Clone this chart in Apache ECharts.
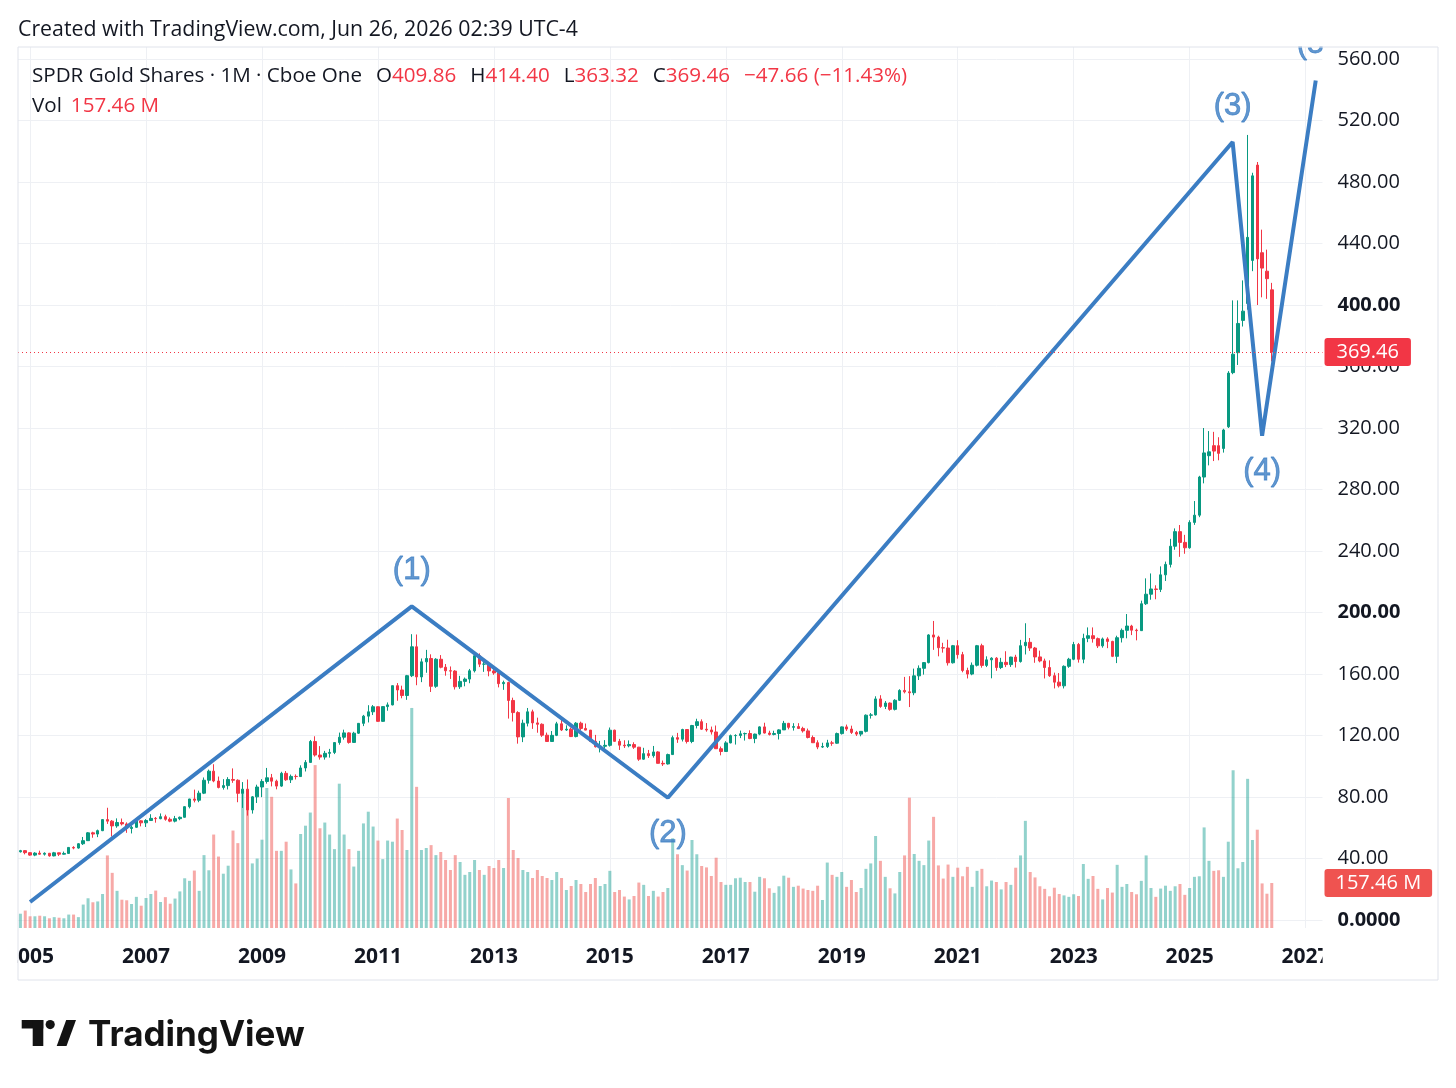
<!DOCTYPE html>
<html>
<head>
<meta charset="utf-8">
<title>SPDR Gold Shares · 1M</title>
<script src="https://cdn.jsdelivr.net/npm/echarts@6.0.0/dist/echarts.min.js"></script>
<style>
  html, body { margin: 0; padding: 0; background: #fff; }
  #chart { width: 1456px; height: 1088px; }
</style>
</head>
<body>
<div id="chart"></div>
<script>
// monthly bars from Nov 2004 to Jun 2026
var startYear = 2004, startMonth = 11;
var emptyMonths = 10; // free space right of the last bar

var open = [
  44.38, 45.12,
  43.80, 42.20, 43.50, 42.80, 43.40, 41.70, 43.70, 42.80, 43.30, 47.20, 46.80, 49.60,
  51.60, 56.70, 55.90, 58.10, 65.30, 64.30, 61.20, 63.40, 62.50, 59.50, 60.30, 64.50,
  63.20, 64.70, 66.10, 65.90, 67.20, 65.50, 64.30, 65.90, 66.80, 73.70, 78.70, 77.90,
  82.50, 90.90, 96.80, 90.40, 86.20, 87.40, 91.40, 90.90, 82.40, 85.10, 71.60, 80.10,
  86.50, 90.10, 92.50, 90.30, 87.10, 95.40, 91.20, 93.40, 93.30, 98.90, 102.50, 116.10,
  107.30, 105.96, 108.40, 109.00, 115.40, 118.90, 121.70, 115.50, 121.50, 127.90, 132.60, 135.40,
  138.70, 129.20, 138.80, 139.90, 152.40, 149.60, 146.00, 158.90, 177.70, 158.10, 167.90, 170.10,
  152.00, 169.60, 164.40, 162.10, 161.90, 151.70, 155.20, 156.70, 162.10, 171.90, 166.40, 166.40,
  162.00, 160.70, 153.70, 154.50, 142.80, 134.90, 119.10, 128.00, 135.40, 128.20, 127.30, 120.20,
  116.10, 120.10, 127.60, 123.60, 124.10, 119.30, 128.00, 124.60, 123.50, 116.20, 112.70, 113.00,
  113.60, 123.45, 116.20, 113.70, 113.30, 114.10, 112.40, 104.60, 108.20, 106.90, 109.30, 101.90,
  101.50, 107.60, 118.60, 117.60, 123.90, 116.10, 126.50, 128.98, 124.10, 123.60, 122.30, 111.40,
  109.60, 115.20, 119.90, 120.00, 121.10, 121.30, 118.00, 120.90, 125.60, 121.60, 120.70, 121.30,
  123.65, 127.90, 125.30, 125.80, 124.60, 123.00, 118.70, 115.30, 112.50, 112.80, 115.20, 115.00,
  121.25, 125.60, 124.20, 122.00, 120.90, 122.70, 133.20, 133.40, 143.80, 138.90, 141.10, 137.00,
  142.90, 149.30, 148.40, 147.80, 158.80, 163.70, 167.40, 185.40, 184.00, 177.10, 176.90, 167.30,
  178.40, 172.60, 162.30, 159.96, 165.70, 178.40, 165.60, 169.20, 170.30, 164.20, 167.60, 166.10,
  171.00, 168.10, 178.40, 180.60, 176.90, 171.10, 168.50, 164.20, 158.90, 154.70, 152.30, 165.00,
  169.60, 179.20, 169.60, 183.20, 184.90, 183.00, 178.30, 182.80, 181.20, 171.50, 183.60, 188.40,
  191.20, 188.50, 188.20, 205.70, 211.90, 215.30, 215.00, 224.50, 231.30, 243.10, 252.60, 245.60,
  242.10, 258.60, 263.30, 288.10, 302.00, 308.50, 308.50, 306.70, 320.80, 356.00, 369.00, 390.00,
  401.00, 429.00, 491.00, 434.00, 422.00, 409.86
];
var high = [
  45.60, 45.50,
  44.00, 44.10, 45.10, 44.00, 43.60, 44.30, 43.80, 44.50, 47.30, 48.00, 50.00, 54.00,
  57.20, 57.40, 58.80, 65.60, 73.00, 65.00, 66.10, 66.00, 63.50, 61.50, 65.00, 64.90,
  65.60, 68.80, 67.00, 69.30, 68.50, 66.70, 67.70, 67.30, 74.00, 78.80, 84.80, 84.10,
  92.70, 97.80, 101.30, 93.30, 91.60, 92.90, 98.60, 91.50, 89.70, 91.40, 80.60, 88.00,
  91.60, 98.90, 95.00, 91.30, 96.40, 96.90, 94.60, 94.70, 100.60, 104.00, 117.10, 119.50,
  113.10, 110.00, 111.30, 115.50, 121.90, 123.80, 122.10, 122.40, 128.10, 133.40, 139.70, 139.80,
  138.90, 138.90, 141.50, 152.50, 154.10, 152.40, 159.40, 185.90, 185.70, 170.10, 175.70, 172.80,
  170.30, 172.30, 166.50, 164.90, 162.50, 158.80, 157.70, 163.30, 173.00, 173.40, 169.60, 167.50,
  163.90, 162.90, 155.70, 155.00, 144.60, 135.80, 130.30, 137.90, 136.80, 131.60, 127.90, 121.90,
  122.90, 128.90, 132.10, 126.60, 125.20, 128.70, 129.00, 127.80, 123.60, 120.40, 116.50, 117.00,
  125.20, 123.80, 117.80, 116.90, 116.80, 115.60, 112.60, 112.00, 110.60, 113.20, 109.80, 103.70,
  108.20, 119.90, 121.70, 124.40, 124.20, 126.90, 130.90, 130.50, 128.10, 125.80, 126.50, 112.80,
  116.30, 120.60, 120.80, 123.20, 121.90, 123.40, 121.20, 126.00, 128.30, 123.10, 123.10, 124.10,
  129.50, 128.20, 128.00, 128.00, 125.70, 124.50, 120.00, 116.90, 115.30, 117.20, 116.50, 121.90,
  125.90, 127.10, 126.40, 123.00, 122.80, 133.70, 134.60, 145.50, 146.20, 142.40, 141.50, 143.60,
  150.10, 158.10, 158.60, 163.50, 165.60, 167.80, 185.90, 194.50, 184.90, 180.30, 182.30, 178.90,
  182.00, 174.40, 164.10, 167.50, 178.90, 179.70, 171.50, 170.90, 171.00, 170.50, 174.80, 171.20,
  172.50, 182.20, 193.00, 183.40, 177.60, 175.20, 170.00, 168.90, 160.90, 160.60, 165.60, 170.50,
  180.90, 180.20, 186.20, 190.30, 190.30, 183.70, 183.70, 183.90, 181.60, 184.90, 189.60, 199.00,
  192.00, 189.50, 207.70, 222.20, 225.40, 217.70, 230.00, 233.10, 247.90, 254.70, 256.90, 250.50,
  260.00, 272.50, 288.90, 320.00, 318.00, 317.50, 314.00, 319.50, 357.00, 403.00, 403.00, 416.00,
  510.60, 486.00, 493.00, 449.00, 436.00, 414.40
];
var low = [
  43.90, 42.70,
  41.80, 41.50, 42.50, 41.90, 41.20, 41.40, 41.60, 42.50, 43.10, 46.00, 46.40, 48.80,
  51.50, 53.50, 53.90, 57.80, 62.50, 54.30, 60.00, 61.50, 56.70, 56.30, 59.90, 60.90,
  60.50, 64.50, 63.30, 65.50, 64.60, 63.60, 63.50, 64.90, 66.60, 72.60, 76.50, 76.60,
  81.90, 88.70, 89.60, 85.60, 84.80, 84.90, 89.20, 76.60, 72.90, 67.90, 69.20, 76.10,
  79.90, 88.70, 86.90, 85.00, 86.60, 90.50, 89.10, 91.40, 93.20, 96.60, 102.20, 106.30,
  104.30, 104.30, 105.60, 107.90, 114.00, 117.30, 114.70, 115.20, 121.00, 126.10, 128.50, 133.30,
  129.00, 128.90, 136.10, 139.60, 142.60, 144.20, 143.20, 158.00, 152.70, 154.70, 160.80, 148.30,
  151.00, 163.70, 158.90, 156.80, 149.90, 150.30, 152.00, 154.00, 161.00, 164.50, 161.40, 158.50,
  159.50, 151.30, 149.70, 131.00, 129.10, 114.70, 115.70, 125.90, 124.30, 121.80, 119.10, 115.80,
  116.00, 119.60, 122.90, 123.00, 119.00, 118.80, 123.60, 123.40, 116.00, 112.20, 109.00, 111.00,
  112.80, 116.00, 110.60, 111.90, 112.30, 111.30, 103.50, 104.20, 105.40, 105.60, 101.80, 100.20,
  101.10, 107.40, 115.20, 116.10, 114.80, 115.00, 124.60, 123.60, 122.50, 120.60, 111.20, 107.10,
  109.40, 114.90, 114.10, 118.30, 116.70, 117.60, 115.00, 120.20, 121.30, 120.00, 120.10, 117.40,
  123.60, 124.00, 123.20, 124.20, 121.90, 118.10, 115.20, 111.10, 111.90, 111.90, 113.30, 114.60,
  120.60, 123.00, 121.00, 119.70, 119.50, 122.00, 131.00, 133.00, 138.00, 137.20, 136.10, 136.30,
  142.50, 147.40, 138.50, 146.20, 156.10, 159.60, 166.90, 175.70, 171.50, 173.90, 165.50, 166.80,
  170.00, 161.10, 157.10, 159.20, 164.90, 164.10, 164.50, 157.20, 162.10, 163.20, 164.50, 164.60,
  164.20, 167.40, 172.70, 175.00, 167.30, 167.60, 157.10, 158.10, 150.60, 151.20, 150.60, 164.00,
  169.00, 167.40, 167.00, 180.70, 180.40, 176.90, 177.10, 176.80, 171.00, 167.10, 180.50, 183.20,
  185.30, 181.90, 188.10, 204.90, 208.30, 208.60, 213.30, 220.50, 229.30, 240.80, 236.20, 238.20,
  241.50, 257.00, 262.00, 284.00, 295.70, 298.50, 299.00, 304.00, 320.00, 355.00, 361.00, 386.00,
  397.00, 422.00, 400.00, 405.00, 404.00, 363.32
];
var close = [
  45.12, 43.80,
  42.20, 43.50, 42.80, 43.40, 41.70, 43.70, 42.80, 43.30, 47.20, 46.80, 49.60, 51.60,
  56.70, 55.90, 58.10, 65.30, 64.30, 61.20, 63.40, 62.50, 59.50, 60.30, 64.50, 63.20,
  64.70, 66.10, 65.90, 67.20, 65.50, 64.30, 65.90, 66.80, 73.70, 78.70, 77.90, 82.50,
  90.90, 96.80, 90.40, 86.20, 87.40, 91.40, 90.90, 82.40, 85.10, 71.60, 80.10, 86.50,
  90.10, 92.50, 90.30, 87.10, 95.40, 91.20, 93.40, 93.30, 98.90, 102.50, 116.10, 107.30,
  105.96, 108.40, 109.00, 115.40, 118.90, 121.70, 115.50, 121.50, 127.90, 132.60, 135.40, 138.70,
  129.20, 138.80, 139.90, 152.40, 149.60, 146.00, 158.90, 177.70, 158.10, 167.90, 170.10, 152.00,
  169.60, 164.40, 162.10, 161.90, 151.70, 155.20, 156.70, 162.10, 171.90, 166.40, 166.40, 162.00,
  160.70, 153.70, 154.50, 142.80, 134.90, 119.10, 128.00, 135.40, 128.20, 127.30, 120.20, 116.10,
  120.10, 127.60, 123.60, 124.10, 119.30, 128.00, 124.60, 123.50, 116.20, 112.70, 113.00, 113.60,
  123.45, 116.20, 113.70, 113.30, 114.10, 112.40, 104.60, 108.20, 106.90, 109.30, 101.90, 101.50,
  107.60, 118.60, 117.60, 123.90, 116.10, 126.50, 128.98, 124.10, 123.60, 122.30, 111.40, 109.60,
  115.20, 119.90, 120.00, 121.10, 121.30, 118.00, 120.90, 125.60, 121.60, 120.70, 121.30, 123.65,
  127.90, 125.30, 125.80, 124.60, 123.00, 118.70, 115.30, 112.50, 112.80, 115.20, 115.00, 121.25,
  125.60, 124.20, 122.00, 120.90, 122.70, 133.20, 133.40, 143.80, 138.90, 141.10, 137.00, 142.90,
  149.30, 148.40, 147.80, 158.80, 163.70, 167.40, 185.40, 184.00, 177.10, 176.90, 167.30, 178.40,
  172.60, 162.30, 159.96, 165.70, 178.40, 165.60, 169.20, 170.30, 164.20, 167.60, 166.10, 171.00,
  168.10, 178.40, 180.60, 176.90, 171.10, 168.50, 164.20, 158.90, 154.70, 152.30, 165.00, 169.60,
  179.20, 169.60, 183.20, 184.90, 183.00, 178.30, 182.80, 181.20, 171.50, 183.60, 188.40, 191.20,
  188.50, 188.20, 205.70, 211.90, 215.30, 215.00, 224.50, 231.30, 243.10, 252.60, 245.60, 242.10,
  258.60, 263.30, 288.10, 303.80, 304.50, 305.00, 303.50, 318.70, 355.70, 368.00, 388.00, 396.00,
  444.00, 484.00, 430.00, 424.00, 417.12, 369.46
];
// volume in millions of shares
var volume = [
  50, 61,
  41, 41, 43, 41, 34, 38, 36, 34, 47, 47, 38, 82,
  104, 90, 93, 119, 254, 193, 130, 99, 97, 84, 109, 78,
  105, 119, 131, 91, 108, 85, 103, 128, 174, 165, 201, 130,
  255, 202, 327, 250, 190, 218, 341, 297, 480, 420, 226, 243,
  309, 490, 459, 270, 270, 302, 205, 156, 329, 358, 404, 570,
  349, 369, 327, 276, 505, 327, 276, 215, 270, 366, 407, 355,
  306, 241, 306, 302, 383, 343, 273, 770, 494, 273, 280, 290,
  255, 266, 238, 203, 255, 231, 186, 196, 238, 203, 186, 217,
  210, 238, 210, 455, 273, 245, 203, 196, 175, 203, 182, 175,
  168, 196, 175, 133, 147, 168, 154, 126, 154, 175, 147, 154,
  200, 126, 133, 110, 100, 112, 159, 151, 112, 130, 110, 126,
  140, 314, 258, 220, 201, 308, 258, 217, 212, 182, 246, 161,
  151, 151, 174, 176, 161, 161, 127, 179, 174, 139, 123, 146,
  183, 176, 144, 148, 138, 133, 130, 148, 98, 229, 186, 179,
  196, 144, 168, 126, 140, 207, 226, 322, 235, 179, 139, 121,
  196, 254, 456, 259, 235, 220, 306, 389, 219, 173, 222, 179,
  211, 181, 214, 144, 200, 207, 146, 166, 161, 135, 161, 151,
  211, 254, 375, 196, 177, 146, 137, 111, 141, 119, 114, 109,
  118, 112, 224, 172, 182, 137, 100, 140, 124, 221, 144, 154,
  126, 118, 165, 254, 140, 109, 138, 148, 130, 146, 154, 116,
  140, 179, 181, 352, 235, 200, 202, 179, 302, 552, 209, 231,
  522, 308, 344, 156, 120, 157.46
];

// Elliott wave drawing: x in month index (0 = Nov 2004), y in price
var waveX = [2, 81, 134, 250.9, 257, 268.1];
var waveY = [11.7, 204, 79.5, 506, 315, 546];
var waveLabels = ['', '(1)', '(2)', '(3)', '(4)', '(5)'];

var FONT = '"Open Sans", sans-serif';
var INK = '#131722';
var UP = '#089981', DOWN = '#f23645';
var VOL_UP = 'rgba(38,166,154,0.5)', VOL_DOWN = 'rgba(239,83,80,0.5)';
var GRID = '#eef0f4';
var WAVE = '#3b7dc3';

var months = [];
for (var i = 0; i < open.length + emptyMonths; i++) {
    var m = startMonth - 1 + i;
    months.push((startYear + Math.floor(m / 12)) + '-' + ('0' + (m % 12 + 1)).slice(-2));
}
function isYearTick(idx) {
    var s = months[idx];
    return s.slice(5) === '01' && (+s.slice(0, 4)) % 2 === 1;
}
var yearLines = [];
months.forEach(function (s, i) { if (isYearTick(i)) yearLines.push({ xAxis: s }); });

var candles = open.map(function (o, i) { return [o, close[i], low[i], high[i]]; });
var volBars = volume.map(function (v, i) {
    return { value: v, itemStyle: { color: close[i] >= open[i] ? VOL_UP : VOL_DOWN } };
});
var wavePts = waveX.map(function (x, i) { return [x, waveY[i]]; });
var waveMarks = [];
for (var k = 1; k < waveX.length; k++) {
    waveMarks.push({
        value: [waveX[k], waveY[k]],
        name: waveLabels[k],
        label: { position: k % 2 === 1 ? 'top' : 'bottom' }
    });
}

var n = open.length;
var lastO = open[n - 1], lastH = high[n - 1], lastL = low[n - 1], lastC = close[n - 1];
var chg = lastC - close[n - 2];
var pct = chg / close[n - 2] * 100;
function signed(v) { return (v < 0 ? '\u2212' : '+') + Math.abs(v).toFixed(2); }

var myChart = echarts.init(document.getElementById('chart'));
var option = {
    animation: false,
    backgroundColor: '#ffffff',
    textStyle: { fontFamily: FONT },
    grid: [
        { left: 18, right: 133.5, top: 59, bottom: 168 },
        { left: 18, right: 133.5, top: 47, bottom: 160 }
    ],
    xAxis: [
        { type: 'category', gridIndex: 0, data: months, show: false },
        {
            type: 'category', gridIndex: 1, data: months,
            axisLine: { show: false }, axisTick: { show: false }, splitLine: { show: false },
            axisLabel: {
                interval: function (i) { return isYearTick(i); },
                formatter: function (v) { return v.slice(0, 4); },
                fontSize: 21, fontWeight: 'bold', color: INK, margin: 19, fontFamily: FONT
            }
        },
        { type: 'value', gridIndex: 0, min: -0.5, max: months.length - 0.5, show: false }
    ],
    yAxis: [
        {
            type: 'value', gridIndex: 0, position: 'right', min: 0, max: 560, interval: 40,
            axisLine: { show: false }, axisTick: { show: false },
            splitLine: { lineStyle: { color: GRID, width: 1 } },
            axisLabel: {
                margin: 15, fontSize: 20, color: INK, fontFamily: FONT,
                formatter: function (v) {
                    if (v === 0) return '{b|0.0000}';
                    if (v % 200 === 0) return '{b|' + v.toFixed(2) + '}';
                    return v.toFixed(2);
                },
                rich: { b: { fontSize: 20, fontWeight: 'bold', color: INK, fontFamily: FONT } }
            }
        },
        { type: 'value', gridIndex: 1, min: 0, max: 3083, show: false }
    ],
    series: [
        {
            // vertical year grid lines
            type: 'line', xAxisIndex: 1, yAxisIndex: 1, data: [], silent: true, z: 0,
            markLine: {
                z: 0, silent: true, symbol: ['none', 'none'], label: { show: false },
                lineStyle: { color: GRID, type: 'solid', width: 1 },
                emphasis: { disabled: true },
                data: yearLines
            }
        },
        {
            name: 'Vol', type: 'bar', xAxisIndex: 1, yAxisIndex: 1, data: volBars,
            barWidth: 3, z: 2, silent: true,
            markLine: {
                silent: true, symbol: ['none', 'none'],
                lineStyle: { color: 'transparent', width: 0 },
                label: {
                    show: true, position: 'end', distance: 2,
                    formatter: function () { return volume[n - 1].toFixed(2) + ' M'; },
                    backgroundColor: '#ef5350', color: '#ffffff', fontSize: 20,
                    fontFamily: FONT, padding: [4, 11], borderRadius: 3
                },
                data: [{ yAxis: volume[n - 1] }]
            }
        },
        {
            name: 'GLD', type: 'candlestick', xAxisIndex: 0, yAxisIndex: 0, data: candles,
            barWidth: 3, z: 3, silent: true,
            itemStyle: { color: UP, color0: DOWN, borderColor: UP, borderColor0: DOWN, borderWidth: 1 },
            markLine: {
                silent: true, symbol: ['none', 'none'],
                lineStyle: { color: DOWN, type: [1, 3], width: 1 },
                label: {
                    show: true, position: 'end', distance: 2,
                    formatter: function () { return lastC.toFixed(2); },
                    backgroundColor: DOWN, color: '#ffffff', fontSize: 20,
                    fontFamily: FONT, padding: [4, 12], borderRadius: 3
                },
                data: [{ yAxis: lastC }]
            }
        },
        {
            type: 'line', xAxisIndex: 2, yAxisIndex: 0, data: wavePts, z: 4,
            symbol: 'none', silent: true, clip: false,
            lineStyle: { color: WAVE, width: 4 }
        },
        {
            type: 'scatter', xAxisIndex: 2, yAxisIndex: 0, data: waveMarks, z: 5,
            symbolSize: 1, silent: true, itemStyle: { color: 'transparent' },
            label: {
                show: true, distance: 20, formatter: '{b}', color: WAVE,
                textBorderColor: WAVE, textBorderWidth: 0.8,
                fontSize: 31, fontFamily: '"Liberation Sans", sans-serif'
            }
        }
    ],
    graphic: [
        {
            type: 'text', left: 18, top: 19, z: 100,
            style: {
                text: 'Created with TradingView.com, Jun 26, 2026 02:39 UTC-4',
                fontSize: 21.3, fontFamily: FONT, fill: INK
            }
        },
        {
            type: 'text', left: 32, top: 66, z: 100,
            style: {
                text: '{n|SPDR Gold Shares · 1M · Cboe One}{k|O}{v|' + lastO.toFixed(2) + '}{k|H}{v|' +
                    lastH.toFixed(2) + '}{k|L}{v|' + lastL.toFixed(2) + '}{k|C}{v|' + lastC.toFixed(2) +
                    '}{c|' + signed(chg) + ' (' + signed(pct) + '%)}',
                fontSize: 20.6, fontFamily: FONT, fill: INK,
                rich: {
                    n: { fontSize: 20.6, fontFamily: FONT, fill: INK },
                    k: { fontSize: 20.6, fontFamily: FONT, fill: INK, padding: [0, 0, 0, 14] },
                    v: { fontSize: 20.6, fontFamily: FONT, fill: DOWN },
                    c: { fontSize: 20.6, fontFamily: FONT, fill: DOWN, padding: [0, 0, 0, 14] }
                }
            }
        },
        {
            type: 'text', left: 32, top: 96, z: 100,
            style: {
                text: '{k|Vol}{v|' + volume[n - 1].toFixed(2) + ' M}',
                fontSize: 20.6, fontFamily: FONT, fill: INK,
                rich: {
                    k: { fontSize: 20.6, fontFamily: FONT, fill: INK },
                    v: { fontSize: 20.6, fontFamily: FONT, fill: DOWN, padding: [0, 0, 0, 9] }
                }
            }
        },
        // clip the labels that run past the pane edges
        { type: 'rect', z: 90, shape: { x: 1270, y: 0, width: 70, height: 46.5 }, style: { fill: '#ffffff' } },
        { type: 'rect', z: 90, shape: { x: 1322.6, y: 20, width: 12, height: 70 }, style: { fill: '#ffffff' } },
        { type: 'rect', z: 90, shape: { x: 0, y: 935, width: 17.5, height: 40 }, style: { fill: '#ffffff' } },
        { type: 'rect', z: 90, shape: { x: 1322.6, y: 935, width: 14, height: 40 }, style: { fill: '#ffffff' } },
        // outer frame
        {
            type: 'rect', z: 95, shape: { x: 18, y: 47, width: 1420, height: 933 },
            style: { fill: 'none', stroke: '#e0e3eb', lineWidth: 1 }
        },
        // TradingView logo
        { type: 'rect', z: 100, shape: { x: 21.7, y: 1020, width: 21.6, height: 8.5 }, style: { fill: '#131313' } },
        { type: 'rect', z: 100, shape: { x: 32.7, y: 1020, width: 10.6, height: 26 }, style: { fill: '#131313' } },
        { type: 'circle', z: 100, shape: { cx: 50.2, cy: 1024.6, r: 4.6 }, style: { fill: '#131313' } },
        {
            type: 'polygon', z: 100,
            shape: { points: [[56.7, 1046], [66.5, 1046], [76, 1020], [66.2, 1020]] },
            style: { fill: '#131313' }
        },
        {
            type: 'text', z: 100, x: 88, y: 1035,
            style: {
                text: 'TradingView', fontSize: 35, fontWeight: 'bold',
                fontFamily: 'Inter, sans-serif', fill: '#131313', verticalAlign: 'middle'
            }
        }
    ]
};
myChart.setOption(option);
</script>
</body>
</html>
